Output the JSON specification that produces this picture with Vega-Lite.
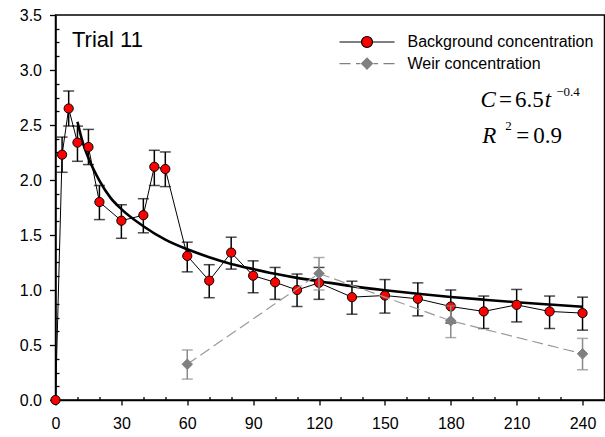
{
  "$schema": "https://vega.github.io/schema/vega-lite/v6.json",
  "width": 549,
  "height": 385,
  "autosize": {"type": "none"},
  "padding": {"left": 55.5, "top": 15, "right": 0.5, "bottom": 37},
  "background": "white",
  "config": {
    "view": {"stroke": "black", "strokeWidth": 1.5},
    "axis": {
      "grid": false,
      "title": null,
      "labelFont": "Liberation Sans",
      "labelFontSize": 16,
      "labelColor": "black",
      "domainColor": "black",
      "domainWidth": 1.5,
      "tickColor": "black",
      "tickWidth": 1.3,
      "labelFlush": false,
      "labelOverlap": false,
      "labelBound": false
    }
  },
  "datasets": {
    "bg": [
      {"t": 0, "c": 0},
      {"t": 3, "c": 2.23, "lo": 2.07, "hi": 2.39},
      {"t": 6, "c": 2.65, "lo": 2.49, "hi": 2.81},
      {"t": 10, "c": 2.34, "lo": 2.17, "hi": 2.49},
      {"t": 15, "c": 2.3, "lo": 2.14, "hi": 2.46},
      {"t": 20, "c": 1.8, "lo": 1.64, "hi": 1.95},
      {"t": 30, "c": 1.63, "lo": 1.47, "hi": 1.775},
      {"t": 40, "c": 1.68, "lo": 1.52, "hi": 1.83},
      {"t": 45, "c": 2.12, "lo": 1.95, "hi": 2.27},
      {"t": 50, "c": 2.1, "lo": 1.94, "hi": 2.255},
      {"t": 60, "c": 1.31, "lo": 1.165, "hi": 1.435},
      {"t": 70, "c": 1.085, "lo": 0.93, "hi": 1.23},
      {"t": 80, "c": 1.34, "lo": 1.19, "hi": 1.48},
      {"t": 90, "c": 1.13, "lo": 0.975, "hi": 1.265},
      {"t": 100, "c": 1.07, "lo": 0.915, "hi": 1.205},
      {"t": 110, "c": 1.0, "lo": 0.85, "hi": 1.145},
      {"t": 120, "c": 1.065, "lo": 0.915, "hi": 1.205},
      {"t": 135, "c": 0.935, "lo": 0.78, "hi": 1.08},
      {"t": 150, "c": 0.95, "lo": 0.79, "hi": 1.095},
      {"t": 165, "c": 0.92, "lo": 0.765, "hi": 1.065},
      {"t": 180, "c": 0.85, "lo": 0.7, "hi": 1.0},
      {"t": 195, "c": 0.805, "lo": 0.65, "hi": 0.945},
      {"t": 210, "c": 0.865, "lo": 0.71, "hi": 1.005},
      {"t": 225, "c": 0.805, "lo": 0.65, "hi": 0.945},
      {"t": 240, "c": 0.79, "lo": 0.635, "hi": 0.935}
    ],
    "weir": [
      {"t": 60, "c": 0.325, "lo": 0.19, "hi": 0.455},
      {"t": 120, "c": 1.15, "lo": 1.0, "hi": 1.295},
      {"t": 180, "c": 0.72, "lo": 0.567, "hi": 0.855},
      {"t": 240, "c": 0.42, "lo": 0.275, "hi": 0.56}
    ],
    "fit": [
      {"t": 10, "c": 2.53},
      {"t": 12, "c": 2.37},
      {"t": 15, "c": 2.2},
      {"t": 20, "c": 1.995},
      {"t": 25, "c": 1.84},
      {"t": 30, "c": 1.735},
      {"t": 40, "c": 1.58},
      {"t": 50, "c": 1.458},
      {"t": 60, "c": 1.37},
      {"t": 70, "c": 1.298},
      {"t": 80, "c": 1.237},
      {"t": 90, "c": 1.19},
      {"t": 100, "c": 1.147},
      {"t": 110, "c": 1.11},
      {"t": 120, "c": 1.08},
      {"t": 135, "c": 1.035},
      {"t": 150, "c": 0.998},
      {"t": 165, "c": 0.966},
      {"t": 180, "c": 0.937},
      {"t": 195, "c": 0.912},
      {"t": 210, "c": 0.889},
      {"t": 225, "c": 0.868},
      {"t": 240, "c": 0.848}
    ],
    "legend": [
      {"series": "Background concentration"},
      {"series": "Weir concentration"}
    ],
    "one": [{"k": 1}]
  },
  "layer": [
    {
      "encoding": {
        "x": {
          "field": "t",
          "type": "quantitative",
          "scale": {"domain": [0, 250], "nice": false, "zero": false},
          "axis": {
            "values": [0, 10, 20, 30, 40, 50, 60, 70, 80, 90, 100, 110, 120, 130, 140, 150, 160, 170, 180, 190, 200, 210, 220, 230, 240],
            "labelExpr": "datum.value % 30 === 0 ? datum.label : ''",
            "tickSize": {"condition": {"test": "datum.value % 30 === 0", "value": 5}, "value": -3.5},
            "labelPadding": 10,
            "labelOverlap": false
          }
        },
        "y": {
          "field": "c",
          "type": "quantitative",
          "scale": {"domain": [0, 3.5], "nice": false, "zero": false},
          "axis": {
            "values": [0, 0.125, 0.25, 0.375, 0.5, 0.625, 0.75, 0.875, 1, 1.125, 1.25, 1.375, 1.5, 1.625, 1.75, 1.875, 2, 2.125, 2.25, 2.375, 2.5, 2.625, 2.75, 2.875, 3, 3.125, 3.25, 3.375, 3.5],
            "format": ".1f",
            "labelExpr": "abs(datum.value * 2 - round(datum.value * 2)) < 0.001 ? datum.label : ''",
            "tickSize": {"condition": {"test": "abs(datum.value * 2 - round(datum.value * 2)) < 0.001", "value": 6}, "value": -3.5},
            "labelPadding": 8,
            "labelOverlap": false
          }
        }
      },
      "layer": [
        {
          "data": {"name": "bg"},
          "transform": [{"filter": "isValid(datum.lo)"}],
          "mark": {"type": "rule", "color": "black", "strokeWidth": 1.5},
          "encoding": {"y": {"field": "lo"}, "y2": {"field": "hi"}}
        },
        {
          "data": {"name": "bg"},
          "transform": [{"filter": "isValid(datum.lo)"}],
          "mark": {"type": "tick", "orient": "horizontal", "color": "black", "size": 11, "thickness": 1.5},
          "encoding": {"y": {"field": "lo"}}
        },
        {
          "data": {"name": "bg"},
          "transform": [{"filter": "isValid(datum.lo)"}],
          "mark": {"type": "tick", "orient": "horizontal", "color": "black", "size": 11, "thickness": 1.5},
          "encoding": {"y": {"field": "hi"}}
        },
        {
          "data": {"name": "bg"},
          "mark": {"type": "line", "color": "black", "strokeWidth": 1},
          "encoding": {}
        },
        {
          "data": {"name": "fit"},
          "mark": {"type": "line", "color": "black", "strokeWidth": 2.6, "interpolate": "monotone"},
          "encoding": {}
        },
        {
          "data": {"name": "bg"},
          "mark": {"type": "point", "shape": "circle", "filled": true, "fill": "#ff0000", "stroke": "black", "strokeWidth": 1, "size": 85, "opacity": 1},
          "encoding": {}
        },
        {
          "data": {"name": "weir"},
          "mark": {"type": "rule", "color": "#8a8a8a", "strokeWidth": 1.5},
          "encoding": {"y": {"field": "lo"}, "y2": {"field": "hi"}}
        },
        {
          "data": {"name": "weir"},
          "mark": {"type": "tick", "orient": "horizontal", "color": "#8a8a8a", "size": 11, "thickness": 1.5},
          "encoding": {"y": {"field": "lo"}}
        },
        {
          "data": {"name": "weir"},
          "mark": {"type": "tick", "orient": "horizontal", "color": "#8a8a8a", "size": 11, "thickness": 1.5},
          "encoding": {"y": {"field": "hi"}}
        },
        {
          "data": {"name": "weir"},
          "mark": {"type": "line", "color": "#999999", "strokeWidth": 1.2, "strokeDash": [11, 5]},
          "encoding": {}
        },
        {
          "data": {"name": "weir"},
          "mark": {"type": "point", "shape": "diamond", "filled": true, "fill": "#808080", "stroke": "#808080", "strokeWidth": 1, "size": 110, "opacity": 1},
          "encoding": {}
        }
      ]
    },
    {
      "data": {"name": "one"},
      "encoding": {
        "x": {
          "datum": 0,
          "type": "quantitative",
          "scale": {"domain": [0, 250], "nice": false, "zero": false},
          "axis": {
            "values": [0, 10, 20, 30, 40, 50, 60, 70, 80, 90, 100, 110, 120, 130, 140, 150, 160, 170, 180, 190, 200, 210, 220, 230, 240],
            "labelExpr": "datum.value % 30 === 0 ? datum.label : ''",
            "tickSize": {"condition": {"test": "datum.value % 30 === 0", "value": 5}, "value": -3.5},
            "labelPadding": 10,
            "labelOverlap": false
          }
        },
        "y": {
          "datum": 0,
          "type": "quantitative",
          "scale": {"domain": [0, 3.5], "nice": false, "zero": false},
          "axis": {
            "values": [0, 0.125, 0.25, 0.375, 0.5, 0.625, 0.75, 0.875, 1, 1.125, 1.25, 1.375, 1.5, 1.625, 1.75, 1.875, 2, 2.125, 2.25, 2.375, 2.5, 2.625, 2.75, 2.875, 3, 3.125, 3.25, 3.375, 3.5],
            "format": ".1f",
            "labelExpr": "abs(datum.value * 2 - round(datum.value * 2)) < 0.001 ? datum.label : ''",
            "tickSize": {"condition": {"test": "abs(datum.value * 2 - round(datum.value * 2)) < 0.001", "value": 6}, "value": -3.5},
            "labelPadding": 8,
            "labelOverlap": false
          }
        }
      },
      "layer": [
        {
          "mark": {"type": "text", "align": "left", "baseline": "alphabetic", "font": "Liberation Sans", "fontSize": 22, "color": "black"},
          "encoding": {"x": {"datum": 7.5}, "y": {"datum": 3.212}, "text": {"value": "Trial 11"}}
        },
        {
          "mark": {"type": "text", "align": "left", "baseline": "alphabetic", "font": "Liberation Serif", "fontStyle": "italic", "fontSize": 23, "color": "black"},
          "encoding": {"x": {"datum": 193.5}, "y": {"datum": 2.661}, "text": {"value": "C"}}
        },
        {
          "mark": {"type": "text", "align": "left", "baseline": "alphabetic", "font": "Liberation Serif", "fontSize": 23, "color": "black"},
          "encoding": {"x": {"datum": 202.0}, "y": {"datum": 2.661}, "text": {"value": "="}}
        },
        {
          "mark": {"type": "text", "align": "left", "baseline": "alphabetic", "font": "Liberation Serif", "fontSize": 23, "color": "black"},
          "encoding": {"x": {"datum": 209.2}, "y": {"datum": 2.661}, "text": {"value": "6.5"}}
        },
        {
          "mark": {"type": "text", "align": "left", "baseline": "alphabetic", "font": "Liberation Serif", "fontStyle": "italic", "fontSize": 23, "color": "black"},
          "encoding": {"x": {"datum": 222.8}, "y": {"datum": 2.661}, "text": {"value": "t"}}
        },
        {
          "mark": {"type": "text", "align": "left", "baseline": "alphabetic", "font": "Liberation Serif", "fontSize": 13, "color": "black"},
          "encoding": {"x": {"datum": 228.0}, "y": {"datum": 2.766}, "text": {"value": "−0.4"}}
        },
        {
          "mark": {"type": "text", "align": "left", "baseline": "alphabetic", "font": "Liberation Serif", "fontStyle": "italic", "fontSize": 23, "color": "black"},
          "encoding": {"x": {"datum": 194.3}, "y": {"datum": 2.334}, "text": {"value": "R"}}
        },
        {
          "mark": {"type": "text", "align": "left", "baseline": "alphabetic", "font": "Liberation Serif", "fontSize": 13, "color": "black"},
          "encoding": {"x": {"datum": 204.8}, "y": {"datum": 2.455}, "text": {"value": "2"}}
        },
        {
          "mark": {"type": "text", "align": "left", "baseline": "alphabetic", "font": "Liberation Serif", "fontSize": 23, "color": "black"},
          "encoding": {"x": {"datum": 209.8}, "y": {"datum": 2.334}, "text": {"value": "="}}
        },
        {
          "mark": {"type": "text", "align": "left", "baseline": "alphabetic", "font": "Liberation Serif", "fontSize": 23, "color": "black"},
          "encoding": {"x": {"datum": 217.5}, "y": {"datum": 2.334}, "text": {"value": "0.9"}}
        }
      ]
    },
    {
      "data": {"name": "legend"},
      "transform": [{"filter": "false"}],
      "mark": {"type": "point", "filled": true, "strokeWidth": 1.2},
      "encoding": {
        "shape": {
          "field": "series",
          "type": "nominal",
          "scale": {
            "domain": ["Background concentration", "Weir concentration"],
            "range": [
              "M-1,0L-0.22,0M0.22,0L1,0M-0.2,0A0.2,0.2,0,1,0,0.2,0A0.2,0.2,0,1,0,-0.2,0Z",
              "M-1,0L-0.6,0M-0.4,0L-0.24,0M0.24,0L0.4,0M0.6,0L1,0M-0.2,0L0,-0.2L0.2,0L0,0.2Z"
            ]
          },
          "legend": {
            "title": null,
            "orient": "none",
            "legendX": 283,
            "legendY": 17,
            "padding": 0,
            "symbolSize": 3025,
            "symbolStrokeWidth": 1.2,
            "symbolOpacity": 1,
            "labelFont": "Liberation Sans",
            "labelFontSize": 16,
            "labelColor": "black",
            "labelOffset": 12,
            "labelLimit": 300,
            "clipHeight": 20,
            "rowPadding": 1.6
          }
        },
        "fill": {
          "field": "series",
          "type": "nominal",
          "scale": {"domain": ["Background concentration", "Weir concentration"], "range": ["#ff0000", "#808080"]},
          "legend": {"title": null}
        },
        "stroke": {
          "field": "series",
          "type": "nominal",
          "scale": {"domain": ["Background concentration", "Weir concentration"], "range": ["#000000", "#808080"]},
          "legend": {"title": null}
        }
      }
    }
  ]
}
